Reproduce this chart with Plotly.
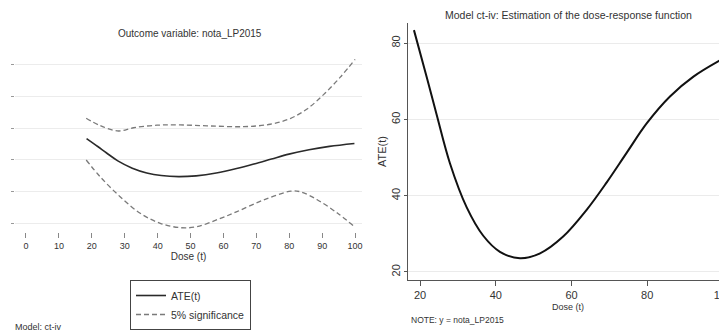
import plotly.graph_objects as go

# ---- data ----
dose_ate = [18.4, 21.8, 24.4, 27.9, 32.3, 36.7, 41.1, 46.4, 51.7, 57.8, 64.0, 69.3, 74.6, 79.9, 86.0, 92.2, 99.8]
ate = [83.4, 71.0, 61.2, 48.5, 37.0, 29.5, 25.3, 23.6, 24.9, 29.3, 36.3, 43.5, 51.3, 59.0, 66.0, 71.2, 75.8]

dose_upper = [18.3, 22.5, 28.1, 32.7, 39.8, 46.9, 56.0, 66.1, 74.2, 80.3, 85.4, 90.5, 95.5, 100.0]
upper = [115.4, 104.0, 95.4, 100.5, 104.5, 104.9, 103.3, 102.2, 106.0, 115.0, 130.0, 153.0, 180.0, 208.0]

dose_lower = [18.3, 22.5, 28.6, 34.7, 40.8, 46.9, 52.0, 58.6, 64.1, 72.2, 80.5, 83.5, 88.6, 94.7, 99.8]
lower = [49.8, 23.6, -7.9, -34.0, -49.7, -56.6, -55.0, -43.0, -31.4, -13.0, 0.8, -0.3, -13.0, -34.0, -55.0]

left_xticks = [0, 10, 20, 30, 40, 50, 60, 70, 80, 90, 100]
left_yticks = [-50, 0, 50, 100, 150, 200]
right_xticks = [20, 40, 60, 80, 100]
right_yticks = [20, 40, 60, 80]

FONT = "Liberation Sans, Arial, sans-serif"
TXT = "#333333"

fig = go.Figure()

# left panel
fig.add_trace(go.Scatter(x=dose_ate, y=ate, mode="lines", name="ATE(t)",
                         line=dict(color="#2a2a2a", width=1.6, shape="spline"),
                         xaxis="x", yaxis="y", legendgroup="ate"))
fig.add_trace(go.Scatter(x=dose_upper, y=upper, mode="lines", name="5% significance",
                         line=dict(color="#7a7a7a", width=1.3, dash="5px,3px", shape="spline"),
                         xaxis="x", yaxis="y", legendgroup="ci"))
fig.add_trace(go.Scatter(x=dose_lower, y=lower, mode="lines", name="5% significance",
                         line=dict(color="#7a7a7a", width=1.3, dash="5px,3px", shape="spline"),
                         xaxis="x", yaxis="y", legendgroup="ci", showlegend=False))

# right panel
fig.add_trace(go.Scatter(x=dose_ate, y=ate, mode="lines", name="ATE(t)",
                         line=dict(color="#111111", width=2, shape="spline"),
                         xaxis="x2", yaxis="y2", showlegend=False))

# the page body has an 8px default margin: lay the figure out in window pixels
OFF = 8
W, H = 727 - OFF, 335 - OFF

def px_x(p):
    return (p - OFF) / W

def px_y(p):
    return 1 - (p - OFF) / H

fig.update_layout(
    width=W, height=H, autosize=False,
    margin=dict(l=0, r=0, t=0, b=0, autoexpand=False),
    paper_bgcolor="white", plot_bgcolor="white",
    font=dict(family=FONT, size=11, color=TXT),
    xaxis=dict(domain=[px_x(15), px_x(362)], range=[-3.34, 102.1], automargin=False,
               tickvals=left_xticks, ticks="outside", ticklen=5, tickcolor="#888",
               showgrid=False, zeroline=False, showline=False,
               tickfont=dict(size=9, color=TXT),
               title=dict(text="Dose (t)", font=dict(size=10, color=TXT), standoff=3),
               anchor="y"),
    yaxis=dict(domain=[px_y(232), px_y(52)], range=[-63.4, 219.6], automargin=False,
               tickvals=left_yticks, ticks="outside", ticklen=3, tickcolor="#999",
               showticklabels=False, showgrid=True, gridcolor="#ececec", gridwidth=1,
               zeroline=False, showline=False, anchor="x"),
    xaxis2=dict(domain=[px_x(408), 1.0], range=[16.83, 101.06],
                automargin=False, ticklabeloverflow="allow",
                tickvals=right_xticks, ticks="outside", ticklen=5, tickcolor="#555",
                showgrid=False, zeroline=False, showline=True, linecolor="#555", linewidth=1,
                tickfont=dict(size=11, color=TXT), anchor="y2"),
    yaxis2=dict(domain=[px_y(280), px_y(23)], range=[17.9, 85.27], automargin=False,
                tickvals=right_yticks, ticks="outside", ticklen=3, tickcolor="#555",
                tickangle=-90, showgrid=True, gridcolor="#ebebeb", gridwidth=1,
                zeroline=False, showline=True, linecolor="#555", linewidth=1,
                tickfont=dict(size=11, color=TXT),
                title=dict(text="ATE(t)", font=dict(size=11, color=TXT), standoff=0),
                anchor="x2"),
    legend=dict(x=px_x(130), y=px_y(280), xanchor="left", yanchor="top",
                bordercolor="#444", borderwidth=1, bgcolor="white",
                font=dict(size=10.5, color=TXT), tracegroupgap=0,
                itemwidth=30),
    showlegend=True,
)

annotations = [
    dict(text="Outcome variable: nota_LP2015", x=px_x(190), y=px_y(33), size=10, xanchor="center"),
    dict(text="Model ct-iv: Estimation of the dose-response function", x=px_x(568), y=px_y(15), size=10.5, xanchor="center"),
    dict(text="Dose (t)", x=px_x(568), y=px_y(307), size=9, xanchor="center"),
    dict(text="NOTE: y = nota_LP2015", x=px_x(409), y=px_y(320), size=8.5, xanchor="left"),
    dict(text="Model: ct-iv", x=px_x(13), y=px_y(327), size=9, xanchor="left"),
]
for a in annotations:
    fig.add_annotation(text=a["text"], x=a["x"], y=a["y"], xref="paper", yref="paper",
                       xanchor=a["xanchor"], yanchor="middle", showarrow=False,
                       font=dict(family=FONT, size=a["size"], color=TXT))

fig.write_html("out.html")
